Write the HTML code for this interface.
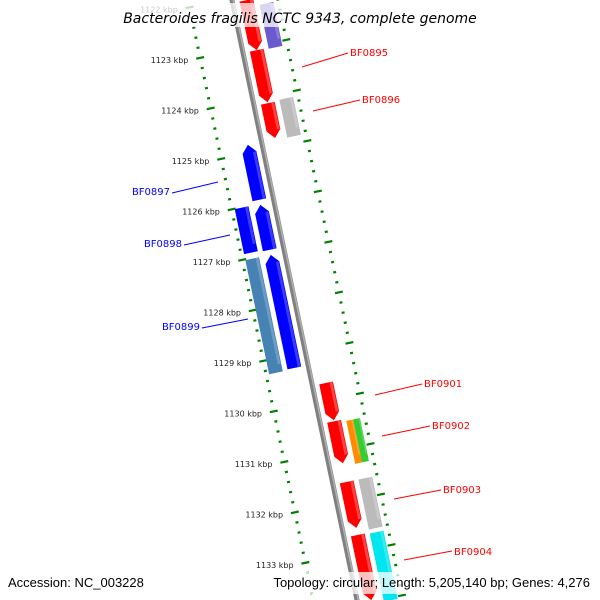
<!DOCTYPE html>
<html><head><meta charset="utf-8"><style>
html,body{margin:0;padding:0;background:#fff;width:600px;height:600px;overflow:hidden;}
svg{display:block;font-family:"Liberation Sans","DejaVu Sans",sans-serif;overflow:hidden;}
</style></head><body>
<svg id="chart" width="600" height="600" viewBox="0 0 600 600" xmlns="http://www.w3.org/2000/svg">
<rect width="600" height="600" fill="#fff"/>
<g id="map" transform="translate(232,0) rotate(-11.77)"></g>
<g id="ticklabels"></g>
<g font-size="10" font-family="DejaVu Sans, sans-serif">
  <line x1="302" y1="67" x2="348" y2="53" stroke="#f00" stroke-width="1"/>
  <text x="350" y="56" fill="#f00">BF0895</text>
  <line x1="313" y1="111" x2="360" y2="100" stroke="#f00" stroke-width="1"/>
  <text x="362" y="103" fill="#f00">BF0896</text>
  <line x1="172" y1="193" x2="218" y2="182" stroke="#00f" stroke-width="1"/>
  <text x="170" y="195" fill="#00f" text-anchor="end">BF0897</text>
  <line x1="184" y1="245" x2="230" y2="235" stroke="#00f" stroke-width="1"/>
  <text x="182" y="247" fill="#00f" text-anchor="end">BF0898</text>
  <line x1="202" y1="328" x2="248" y2="319" stroke="#00f" stroke-width="1"/>
  <text x="200" y="330" fill="#00f" text-anchor="end">BF0899</text>
  <line x1="375" y1="395" x2="422" y2="384" stroke="#f00" stroke-width="1"/>
  <text x="424" y="387" fill="#f00">BF0901</text>
  <line x1="382" y1="436" x2="430" y2="426" stroke="#f00" stroke-width="1"/>
  <text x="432" y="429" fill="#f00">BF0902</text>
  <line x1="394" y1="499" x2="441" y2="490" stroke="#f00" stroke-width="1"/>
  <text x="443" y="493" fill="#f00">BF0903</text>
  <line x1="404" y1="560" x2="452" y2="551" stroke="#f00" stroke-width="1"/>
  <text x="454" y="555" fill="#f00">BF0904</text>
</g>
<rect x="122" y="3" width="356" height="24" fill="#fff" opacity="0.75"/>
<text x="300" y="23" text-anchor="middle" font-size="14" font-style="italic" font-family="DejaVu Sans, sans-serif" fill="#000">Bacteroides fragilis NCTC 9343, complete genome</text>
<rect x="4" y="572" width="150" height="22" fill="#fff" opacity="0.75"/>
<rect x="256" y="572" width="340" height="22" fill="#fff" opacity="0.75"/>
<text x="8" y="587" font-size="13" fill="#000">Accession: NC_003228</text>
<text x="590" y="587" text-anchor="end" font-size="13" fill="#000">Topology: circular; Length: 5,205,140 bp; Genes: 4,276</text>
</svg>
<script>
// data (kbp)
const geneNames = ["BF0894","BF0895","BF0896","BF0901","BF0902","BF0903","BF0904","p1","g1","o1","gr1","g2","c1","BF0897","BF0898b","BF0899b","BF0898","BF0899"];
const geneStarts = [1122.09,1123.08,1124.13,1129.67,1130.43,1131.63,1132.68,1122.23,1124.11,1130.47,1130.47,1131.63,1132.70,1124.84,1126.03,1127.02,1126.01,1127.02];
const geneEnds   = [1123.08,1124.11,1124.82,1130.41,1131.26,1132.54,1133.97,1123.10,1124.86,1131.32,1131.32,1132.62,1134.05,1125.93,1126.92,1129.26,1126.90,1129.28];
const geneStrand = [1,1,1,1,1,1,1,0,0,0,0,0,0,-1,-1,-1,0,0];
const geneTrack  = [1,1,1,1,1,1,1,2,2,3,4,2,2,-1,-1,-1,-2,-2];
const geneColors = ["#ff0000","#ff0000","#ff0000","#ff0000","#ff0000","#ff0000","#ff0000","#6a5acd","#bbbbbb","#ff8c00","#33cc33","#bbbbbb","#00e5ee","#0000ff","#0000ff","#0000ff","#0000ff","#4682b4"];
const tickKbp = [1122,1123,1124,1125,1126,1127,1128,1129,1130,1131,1132,1133];
const rulerStart = 1121.8, rulerEnd = 1134.0;

const NS="http://www.w3.org/2000/svg";
const map=document.getElementById('map');
const tl=document.getElementById('ticklabels');
const PX=51.58, Y0=50.05;
function yl(p){return Y0+(p-1123)*PX;}
const C=Math.cos(-11.77*Math.PI/180), S=Math.sin(-11.77*Math.PI/180);
function toScreen(x,y){return [232+x*C-y*S, x*S+y*C];}
function el(tag,attrs,parent){const e=document.createElementNS(NS,tag);for(const k in attrs)e.setAttribute(k,attrs[k]);parent.appendChild(e);return e;}

// backbone
const bb=el('rect',{x:-2.5,y:-20,width:5,height:660,fill:'#808080'},map);


el('rect',{x:0.5,y:-20,width:1.5,height:660,fill:'#b0b0b0'},map);

// rulers
const rulerX=[-43,45];
for(const rx of rulerX){
  for(let i=Math.round(rulerStart*5);i<=Math.round(rulerEnd*5);i++){
    const p=i/5, major=(i%5===0);
    const len=major?8:3;
    const t=el('rect',{x:rx-len/2,y:yl(p)-1,width:len,height:2.2,fill:'#008000'},map);
    
    
  }
}
// tick labels
for(const k of tickKbp){
  const [sx,sy]=toScreen(-55,yl(k));
  const t=el('text',{x:sx.toFixed(1),y:(sy+3).toFixed(1),'text-anchor':'end','font-size':'8','font-family':'DejaVu Sans, sans-serif',fill:'#222'},tl);
  t.textContent=k+' kbp';
  
  
}
// genes
const trackX={1:[7,21],2:[26,40],3:[26,33],4:[33,40],'-1':[-21,-7],'-2':[-40,-26]};
function lighten(c){return c==='#ff0000'?'#ff7070':c==='#0000ff'?'#6060ff':'rgba(255,255,255,0.35)';}
geneNames.forEach((n,i)=>{
  const [x0,x1]=trackX[geneTrack[i]];
  const y0=yl(geneStarts[i]), y1=yl(geneEnds[i]);
  const tip=Math.min(8,(y1-y0)/3);
  let pts;
  if(geneStrand[i]===1) pts=[[x0,y0],[x1,y0],[x1,y1-tip],[(x0+x1)/2,y1],[x0,y1-tip]];
  else if(geneStrand[i]===-1) pts=[[(x0+x1)/2,y0],[x1,y0+tip],[x1,y1],[x0,y1],[x0,y0+tip]];
  else pts=[[x0,y0],[x1,y0],[x1,y1],[x0,y1]];
  const g=el('polygon',{points:pts.map(p=>p.join(',')).join(' '),fill:geneColors[i]},map);
  
  
  const w=(x1-x0);
  const hl=el('rect',{x:x1-w*0.25,y:y0+(geneStrand[i]===-1?tip:0),width:w*0.2,height:(y1-y0)-tip,fill:lighten(geneColors[i]),opacity:0.6},map);
  
  
});
</script>
</body></html>
